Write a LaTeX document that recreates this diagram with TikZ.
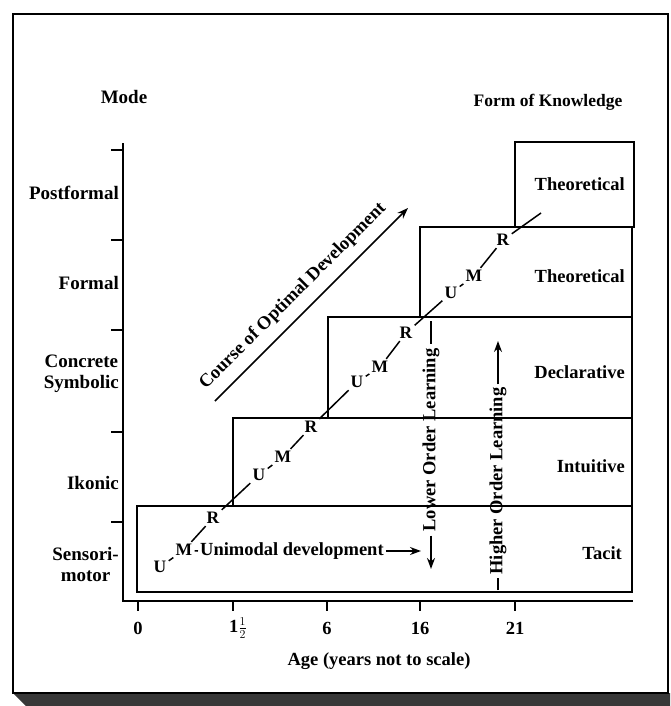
\documentclass[tikz,border=0pt]{standalone}
\usepackage{fontspec}
\setmainfont{Liberation Serif}
\usetikzlibrary{arrows.meta}
\begin{document}
\begin{tikzpicture}[x=1pt,y=-1pt,
  lbl/.style={font=\fontsize{18.5}{21}\selectfont\bfseries, inner sep=0pt},
  modelbl/.style={font=\fontsize{19}{21}\selectfont\bfseries, inner sep=0pt},
  let/.style={font=\fontsize{17.5}{20}\selectfont\bfseries, inner sep=2.2pt},
  boxline/.style={draw, line width=1.8pt},
  ax/.style={line width=1.6pt},
  ln/.style={line width=1.5pt},
  arr/.style={-{Stealth[length=11pt,width=8pt]}, line width=1.5pt}]
\useasboundingbox (0,0) rectangle (670,706);
% frame and shadow band
\fill[black!78] (13,693) -- (670,693) -- (670,706) -- (26,706) -- cycle;
\draw[line width=1.6pt] (13,14) rectangle (668,693);
% staircase boxes
\draw[boxline] (137,506) rectangle (632,592);
\draw[boxline] (233,418) rectangle (632,506);
\draw[boxline] (328,317) rectangle (632,418);
\draw[boxline] (420,227) rectangle (632,317);
\draw[boxline] (515,142) rectangle (634,227);
% axes
\draw[ax] (123,143) -- (123,601) -- (633,601);
\foreach \yy in {150,240,330,432,522} \draw[ax] (111,\yy) -- (123,\yy);
\foreach \xx in {138,233,327,420,515} \draw[ax] (\xx,601) -- (\xx,611);
% axis labels
\node[lbl] (x0) at (138,628) {0};
\node[lbl] (x1) at (238,628) {1\(\frac{1}{2}\)};
\node[lbl] (x6) at (327,628) {6};
\node[lbl] (x16) at (420,628) {16};
\node[lbl] (x21) at (515,628) {21};
\node[lbl] (age) at (379,661) {Age (years not to scale)};
\node[modelbl] (mode) at (124,97) {Mode};
\node[font=\fontsize{17.5}{20}\selectfont\bfseries, inner sep=0pt] (fok) at (548,102) {Form of Knowledge};
% modes
\node[modelbl, anchor=east] (m5) at (119,193) {Postformal};
\node[modelbl, anchor=east] (m4) at (119,283) {Formal};
\node[modelbl, anchor=east, align=center] (m3) at (119,374) {Concrete\\Symbolic};
\node[modelbl, anchor=east] (m2) at (119,483) {Ikonic};
\node[modelbl, anchor=east, align=center] (m1) at (119,564) {Sensori-\\motor};
% forms of knowledge
\node[lbl, anchor=east] (k5) at (625,184) {Theoretical};
\node[lbl, anchor=east] (k4) at (625,276) {Theoretical};
\node[lbl, anchor=east] (k3) at (625,372) {Declarative};
\node[lbl, anchor=east] (k2) at (625,466) {Intuitive};
\node[lbl, anchor=east] (k1) at (622,553) {Tacit};
% U-M-R chain
\node[let] (U1) at (160,567) {U};
\node[let] (M1) at (184,550) {M};
\node[let] (R1) at (213,518) {R};
\node[let] (U2) at (259,475) {U};
\node[let] (M2) at (283,457) {M};
\node[let] (R2) at (311,427) {R};
\node[let] (U3) at (357,382) {U};
\node[let] (M3) at (380,367) {M};
\node[let] (R3) at (406,333) {R};
\node[let] (U4) at (451,293) {U};
\node[let] (M4) at (474,276) {M};
\node[let] (R4) at (503,240) {R};
\coordinate (chainend) at (541,213);
\draw[ln] (U1) -- (M1);
\draw[ln] (M1) -- (R1);
\draw[ln] (R1) -- (U2);
\draw[ln] (U2) -- (M2);
\draw[ln] (M2) -- (R2);
\draw[ln] (R2) -- (U3);
\draw[ln] (U3) -- (M3);
\draw[ln] (M3) -- (R3);
\draw[ln] (R3) -- (U4);
\draw[ln] (U4) -- (M4);
\draw[ln] (M4) -- (R4);
\draw[ln] (R4) -- (chainend);
% unimodal development
\node[lbl, anchor=west, inner sep=2pt] (uni) at (198,551) {Unimodal development};
\coordinate (unitip) at (421,551);
\draw[ln] (M1) -- (uni.west);
\draw[arr] (uni.east) -- (unitip);
% course of optimal development
\node[lbl, rotate=45] (course) at (293,296) {Course of Optimal Development};
\coordinate (cs) at (215,401);
\coordinate (ce) at (408,208);
\draw[arr] (cs) -- (ce);
% lower order learning
\node[lbl, rotate=90, inner sep=4pt] (low) at (431,440) {Lower Order Learning};
\coordinate (lowtop) at (431,321);
\coordinate (lowtip) at (431,569);
\draw[ln] (lowtop) -- (low.east);
\draw[arr] (low.west) -- (lowtip);
% higher order learning
\node[lbl, rotate=90, inner sep=3pt] (high) at (498,481) {Higher Order Learning};
\coordinate (highbot) at (498,590);
\coordinate (hightip) at (498,341);
\draw[ln] (highbot) -- (high.west);
\draw[arr] (high.east) -- (hightip);
\end{tikzpicture}
\end{document}
